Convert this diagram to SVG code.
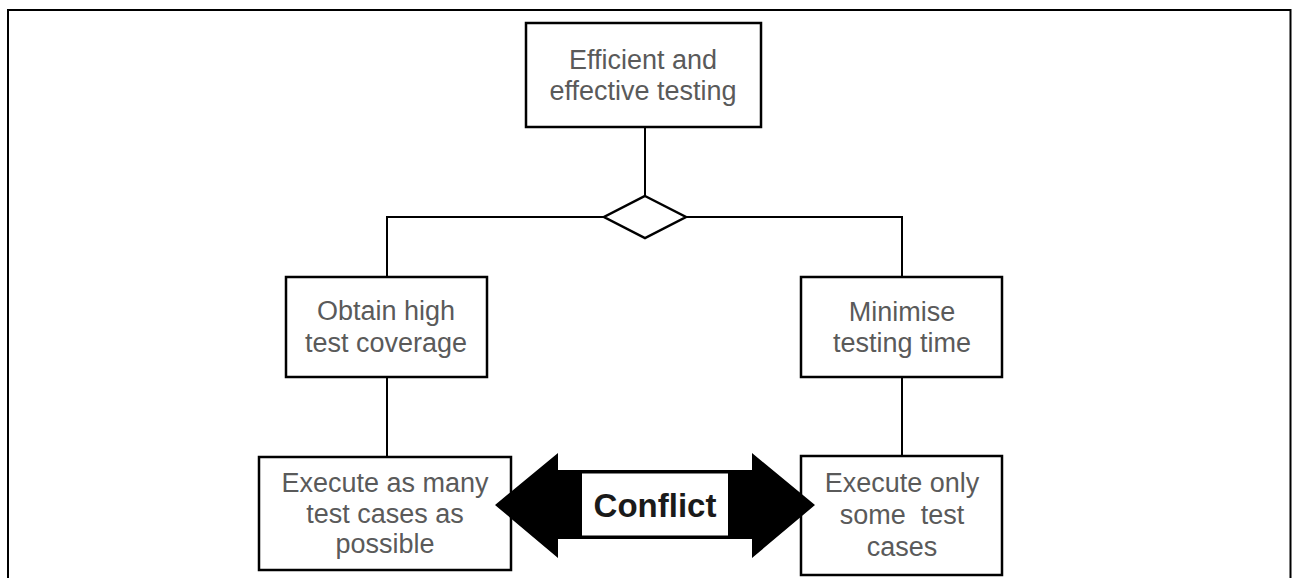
<svg xmlns="http://www.w3.org/2000/svg" width="1292" height="578" viewBox="0 0 1292 578">
  <style>
    .box { fill: #ffffff; stroke: #000000; stroke-width: 2.5; }
    .conn { fill: none; stroke: #000000; stroke-width: 2; }
    .lbl { font-family: "Liberation Sans", Arial, sans-serif; font-size: 27px; fill: #5a5a5a; text-anchor: middle; white-space: pre; }
    .conflict { font-family: "Liberation Sans", Arial, sans-serif; font-size: 33px; font-weight: bold; fill: #1a1a1a; text-anchor: middle; }
  </style>
  <rect x="0" y="0" width="1292" height="578" fill="#ffffff"/>
  <path d="M8,580 V10 H1290.5 V580" fill="none" stroke="#000000" stroke-width="2"/>

  <g id="connectors">
    <line class="conn" x1="645" y1="127" x2="645" y2="196"/>
    <polyline class="conn" points="604,217 387,217 387,277"/>
    <polyline class="conn" points="686,217 902,217 902,277"/>
    <line class="conn" x1="387" y1="377" x2="387" y2="457"/>
    <line class="conn" x1="902" y1="377" x2="902" y2="456"/>
  </g>

  <g id="decision">
    <polygon points="645,196 686,217 645,238 604,217" fill="#ffffff" stroke="#000000" stroke-width="2.5"/>
  </g>

  <g id="goal">
    <rect class="box" x="526" y="23" width="235" height="104"/>
    <text class="lbl" x="643" y="69">Efficient and</text>
    <text class="lbl" x="643" y="100">effective testing</text>
  </g>

  <g id="coverage">
    <rect class="box" x="286" y="277" width="201" height="100"/>
    <text class="lbl" x="386" y="320">Obtain high</text>
    <text class="lbl" x="386" y="352">test coverage</text>
  </g>

  <g id="time">
    <rect class="box" x="801" y="277" width="201" height="100"/>
    <text class="lbl" x="902" y="321">Minimise</text>
    <text class="lbl" x="902" y="352">testing time</text>
  </g>

  <g id="many">
    <rect class="box" x="259" y="457" width="252" height="113"/>
    <text class="lbl" x="385" y="492">Execute as many</text>
    <text class="lbl" x="385" y="523">test cases as</text>
    <text class="lbl" x="385" y="553">possible</text>
  </g>

  <g id="some">
    <rect class="box" x="801" y="456" width="201" height="119"/>
    <text class="lbl" x="902" y="492">Execute only</text>
    <text class="lbl" x="902" y="524">some  test</text>
    <text class="lbl" x="902" y="556">cases</text>
  </g>

  <g id="conflict">
    <polygon points="495,505 558,453 558,470 752,470 752,453 815,505 752,558 752,539 558,539 558,558" fill="#000000"/>
    <rect x="582" y="473.5" width="146" height="62" fill="#ffffff"/>
    <text class="conflict" x="655" y="517">Conflict</text>
  </g>
</svg>
